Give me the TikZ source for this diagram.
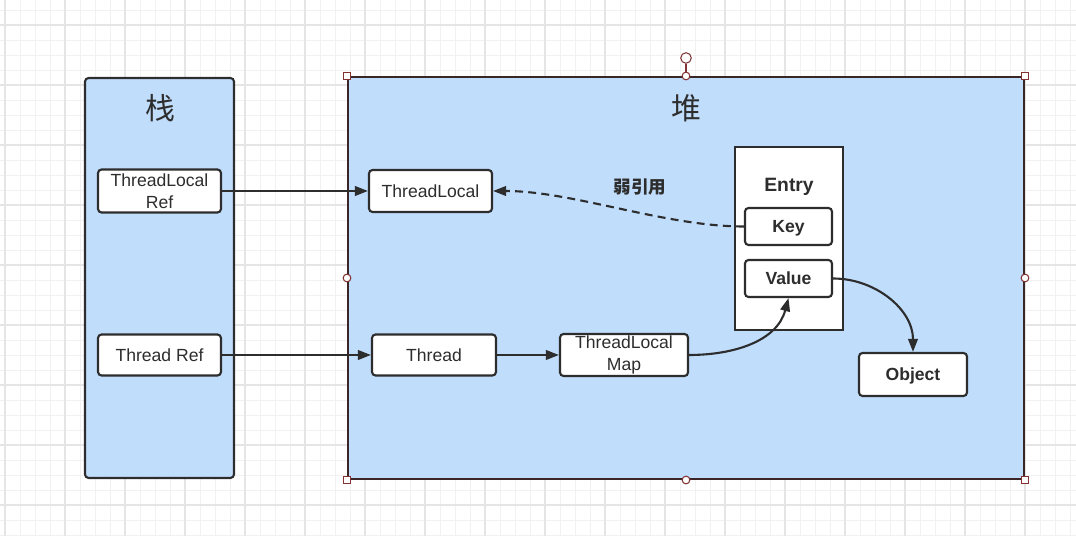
\documentclass[tikz,border=0pt]{standalone}
\usepackage{fontspec}
\setmainfont{Liberation Sans}
\newfontfamily\cjk{Noto Sans CJK SC}
\usetikzlibrary{arrows.meta,positioning}
\definecolor{areablue}{RGB}{192,221,252}
\definecolor{ink}{RGB}{45,45,45}
\definecolor{selink}{RGB}{58,38,38}
\definecolor{gridminor}{RGB}{241,241,241}
\definecolor{gridmajor}{RGB}{229,229,229}
\definecolor{handle}{RGB}{130,50,50}
\tikzset{
    >={Triangle[length=7.5pt,width=5.5pt]},
    region/.style={draw=ink,fill=areablue,line width=1.2pt,inner sep=0pt},
    objbox/.style={draw=ink,fill=white,line width=1.2pt,rounded corners=2pt,inner sep=0pt,
        align=center,text=ink,font=\fontsize{10}{12.5}\selectfont},
    boldbox/.style={objbox,font=\bfseries\fontsize{10}{12}\selectfont,text height=7.2pt,text depth=0pt},
    title/.style={text=ink,font=\cjk\fontsize{17}{19}\selectfont},
    ref/.style={draw=ink,line width=1.2pt,->},
    handlesq/.style={draw=handle,fill=white,line width=0.6pt,minimum size=4.4pt,inner sep=0pt},
    handlecirc/.style={circle,draw=handle,fill=white,line width=0.6pt,minimum size=4.4pt,inner sep=0pt}
}
\begin{document}
\begin{tikzpicture}[x=0.02cm,y=-0.02cm]
    \useasboundingbox (0,0) rectangle (1076,536);

    % Background grid
    \foreach \x in {5,20,...,1075} \draw[gridminor,line width=0.5pt] (\x,0) -- (\x,536);
    \foreach \y in {10,25,...,535} \draw[gridminor,line width=0.5pt] (0,\y) -- (1076,\y);
    \foreach \x in {5,65,...,1075} \draw[gridmajor,line width=0.6pt] (\x,0) -- (\x,536);
    \foreach \y in {25,85,...,535} \draw[gridmajor,line width=0.6pt] (0,\y) -- (1076,\y);

    % Stack
    \node[region,rounded corners=2pt,minimum width=2.98cm,minimum height=8cm] (stack) at (159.5,278) {};
    \node[title] (stacklabel) at (160,108) {栈};
    \node[objbox,minimum width=2.46cm,minimum height=0.86cm] (tlref) at (159.5,191) {ThreadLocal\\Ref};
    \node[objbox,minimum width=2.46cm,minimum height=0.82cm] (tref) at (159.5,355) {Thread Ref};

    % Heap
    \node[region,draw=selink,minimum width=13.52cm,minimum height=8.04cm] (heap) at (686,278) {};
    \node[title] (heaplabel) at (686,108) {堆};
    \node[objbox,minimum width=2.46cm,minimum height=0.84cm] (tl) at (430.5,191) {ThreadLocal};
    \node[objbox,minimum width=2.48cm,minimum height=0.82cm] (thread) at (434,355) {Thread};
    \node[objbox,minimum width=2.56cm,minimum height=0.84cm] (tlmap) at (624,355) {ThreadLocal\\Map};
    \node[draw=ink,fill=white,line width=1.4pt,minimum width=2.16cm,minimum height=3.66cm] (entry) at (789,238.5) {};
    \node[text=ink,font=\bfseries\fontsize{11}{13}\selectfont,text height=7.9pt,text depth=0pt] (entrylabel) at (789,185) {Entry};
    \node[boldbox,minimum width=1.74cm,minimum height=0.74cm] (key) at (788.5,226.5) {Key};
    \node[boldbox,minimum width=1.74cm,minimum height=0.74cm] (value) at (788.5,278.5) {Value};
    \node[boldbox,minimum width=2.16cm,minimum height=0.86cm] (object) at (913,374.5) {Object};
    \node[text=ink,font=\cjk\bfseries\fontsize{10}{12}\selectfont] (weaklabel) at (640,187) {弱引用};

    % References
    \draw[ref] (tlref.east) -- (tl.west);
    \draw[ref] (tref.east) -- (thread.west);
    \draw[ref] (thread.east) -- (tlmap.west);
    \draw[ref] (tlmap.east) to[out=0,in=-105] (value.south);
    \draw[ref] (value.east) to[out=0,in=90] (object.north);
    \draw[ref,dash pattern=on 4.5pt off 3pt] (key.west) to[out=180,in=0,looseness=0.8] (tl.east);

    % Selection handles
    \node[handlecirc,minimum size=6pt] (rotate) at (686,58) {};
    \draw[handle,line width=0.8pt] (rotate) -- (heap.north);
    \foreach \c/\n in {north west/a,north east/b,south west/c,south east/d}
        \node[handlesq] (sq\n) at (heap.\c) {};
    \foreach \c/\n in {north/a,south/b,west/c,east/d}
        \node[handlecirc] (ci\n) at (heap.\c) {};
\end{tikzpicture}
\end{document}
